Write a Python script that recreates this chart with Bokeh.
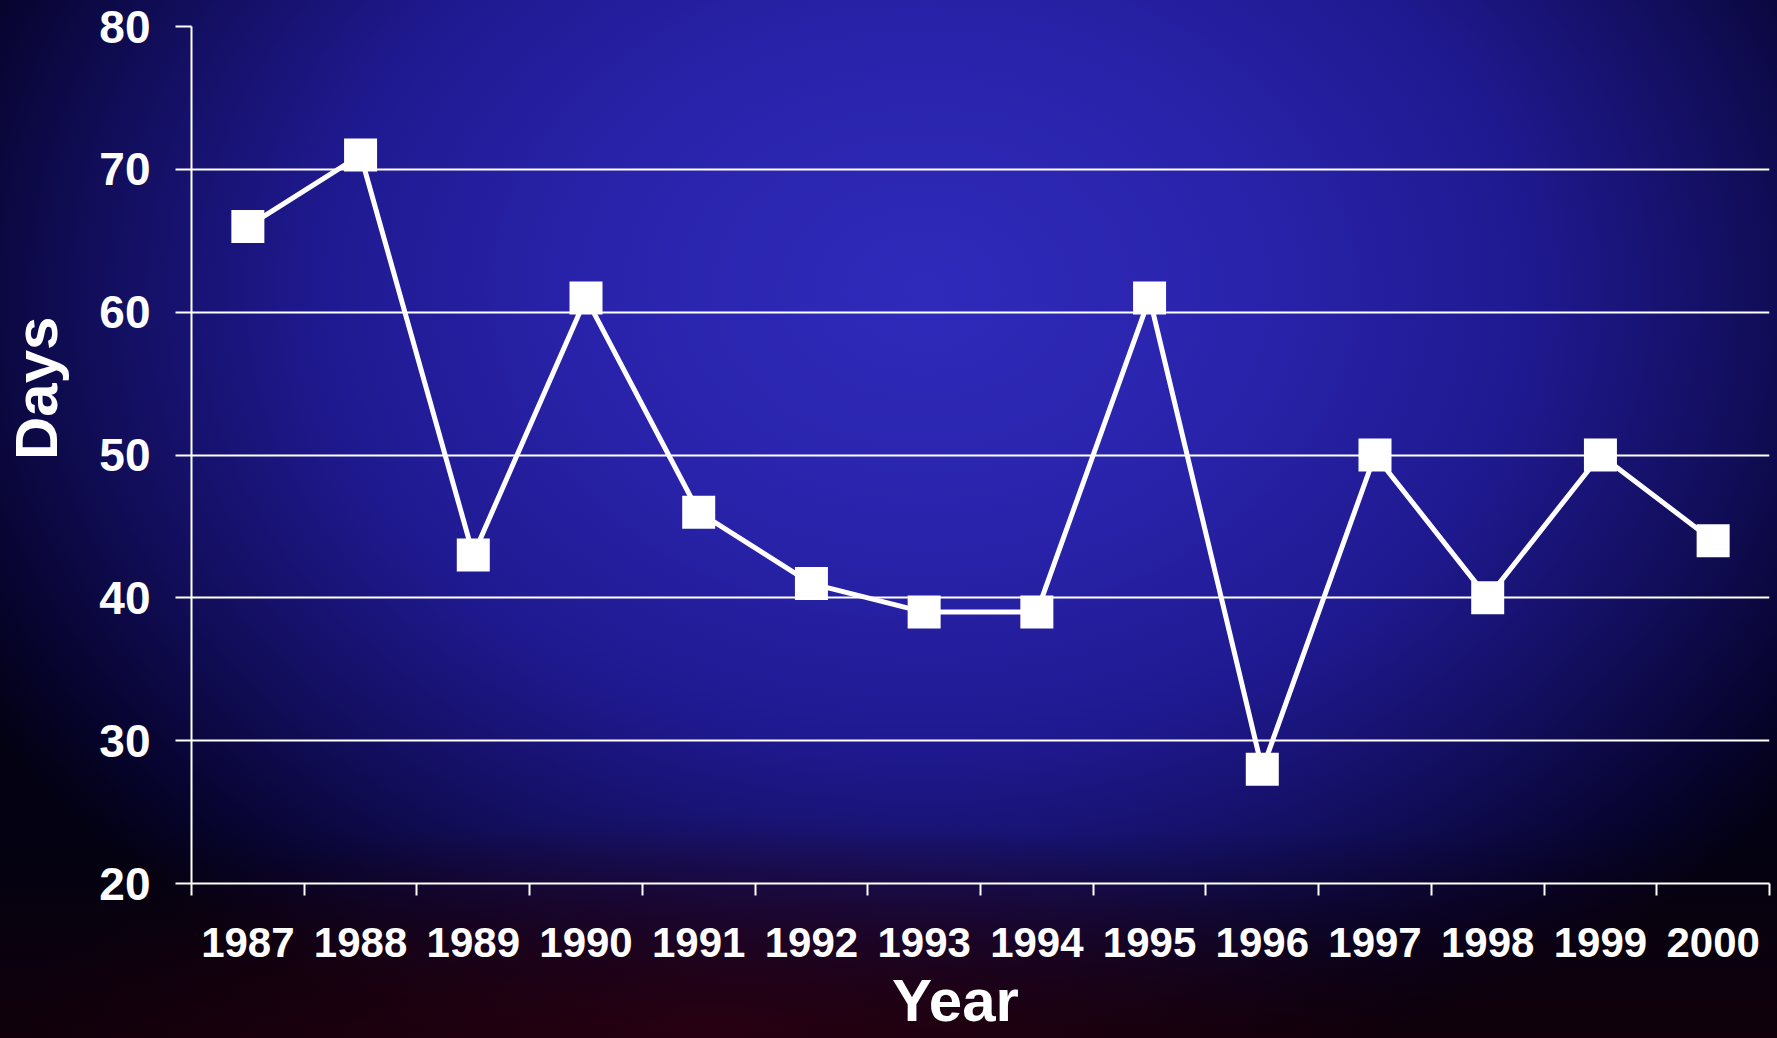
from bokeh.plotting import figure
from bokeh.models import Range1d, LinearAxis, FixedTicker, Grid, ColumnDataSource
from bokeh.embed import file_html
from bokeh.resources import INLINE

# ---- data ----
years = ["1987", "1988", "1989", "1990", "1991", "1992", "1993",
         "1994", "1995", "1996", "1997", "1998", "1999", "2000"]
days = [66, 71, 43, 61, 46, 41, 39, 39, 61, 28, 50, 40, 50, 44]
y_ticks = [20, 30, 40, 50, 60, 70, 80]

n = len(years)
pos = list(range(1, n + 1))            # category centres
bounds = [i + 0.5 for i in range(n + 1)]  # category boundaries

src = ColumnDataSource(dict(x=pos, y=days, year=years))

FONT = "Liberation Sans"
WHITE = "#ffffff"
NB = "\u00a0"

p = figure(width=1777, height=1038,
           x_range=Range1d(0.5, n + 0.5), y_range=Range1d(20, 80),
           x_axis_type=None, y_axis_type=None,
           output_backend="svg", toolbar_location=None,
           min_border_left=191, min_border_right=8,
           min_border_top=26, min_border_bottom=155)
p.outline_line_color = None
p.background_fill_alpha = 0
p.border_fill_alpha = 0
p.styles = {
    "background": (
        "radial-gradient(ellipse 40% 22% at 40% 100%, rgba(55,0,20,0.6) 0%, rgba(55,0,20,0) 100%), "
        "linear-gradient(to top, rgba(16,0,10,0.95) 0%, rgba(16,0,10,0.0) 20%), "
        "radial-gradient(ellipse 62% 80% at 52% 28%, #2f2aba 0%, #2923ab 30%, #1f1990 55%, "
        "#120e5c 75%, #070430 90%, #030112 100%)"
    )
}

# y axis
yax = LinearAxis(ticker=FixedTicker(ticks=y_ticks))
yax.axis_line_color = WHITE
yax.axis_line_width = 2
yax.major_tick_line_color = WHITE
yax.major_tick_line_width = 2
yax.major_tick_out = 16
yax.major_tick_in = 0
yax.minor_tick_line_color = None
yax.major_label_text_font = FONT
yax.major_label_text_font_style = "bold"
yax.major_label_text_font_size = "46px"
yax.major_label_text_color = WHITE
yax.major_label_standoff = 25
yax.axis_label = NB * 8 + "Days"
yax.axis_label_text_font = FONT
yax.axis_label_text_font_style = "bold"
yax.axis_label_text_font_size = "60px"
yax.axis_label_text_color = WHITE
yax.axis_label_standoff = 26
p.add_layout(yax, "left")

# horizontal grid
grid = Grid(dimension=1, ticker=FixedTicker(ticks=y_ticks))
grid.grid_line_color = WHITE
grid.grid_line_width = 2
p.add_layout(grid)

# x axis with tick marks between categories (no labels)
xb = LinearAxis(ticker=FixedTicker(ticks=bounds))
xb.axis_line_color = WHITE
xb.axis_line_width = 2
xb.major_tick_line_color = WHITE
xb.major_tick_line_width = 2
xb.major_tick_out = 12
xb.major_tick_in = 0
xb.minor_tick_line_color = None
xb.major_label_text_font_size = "1px"
xb.major_label_text_alpha = 0
xb.major_label_standoff = 0
p.add_layout(xb, "below")

# x axis carrying the year labels at category centres
xl = LinearAxis(ticker=FixedTicker(ticks=pos))
xl.major_label_overrides = {i: y for i, y in zip(pos, years)}
xl.axis_line_color = None
xl.major_tick_line_color = None
xl.major_tick_out = 0
xl.major_tick_in = 0
xl.minor_tick_line_color = None
xl.major_label_text_font = FONT
xl.major_label_text_font_style = "bold"
xl.major_label_text_font_size = "42px"
xl.major_label_text_color = WHITE
xl.major_label_standoff = 32
xl.axis_label = "Year" + NB * 3
xl.axis_label_text_font = FONT
xl.axis_label_text_font_style = "bold"
xl.axis_label_text_font_size = "60px"
xl.axis_label_text_color = WHITE
xl.axis_label_standoff = 7
p.add_layout(xl, "below")

p.line("x", "y", source=src, line_color=WHITE, line_width=5)
p.scatter("x", "y", source=src, marker="square", size=33,
          fill_color=WHITE, line_color=None)

open("out.html", "w").write(file_html(p, INLINE))
